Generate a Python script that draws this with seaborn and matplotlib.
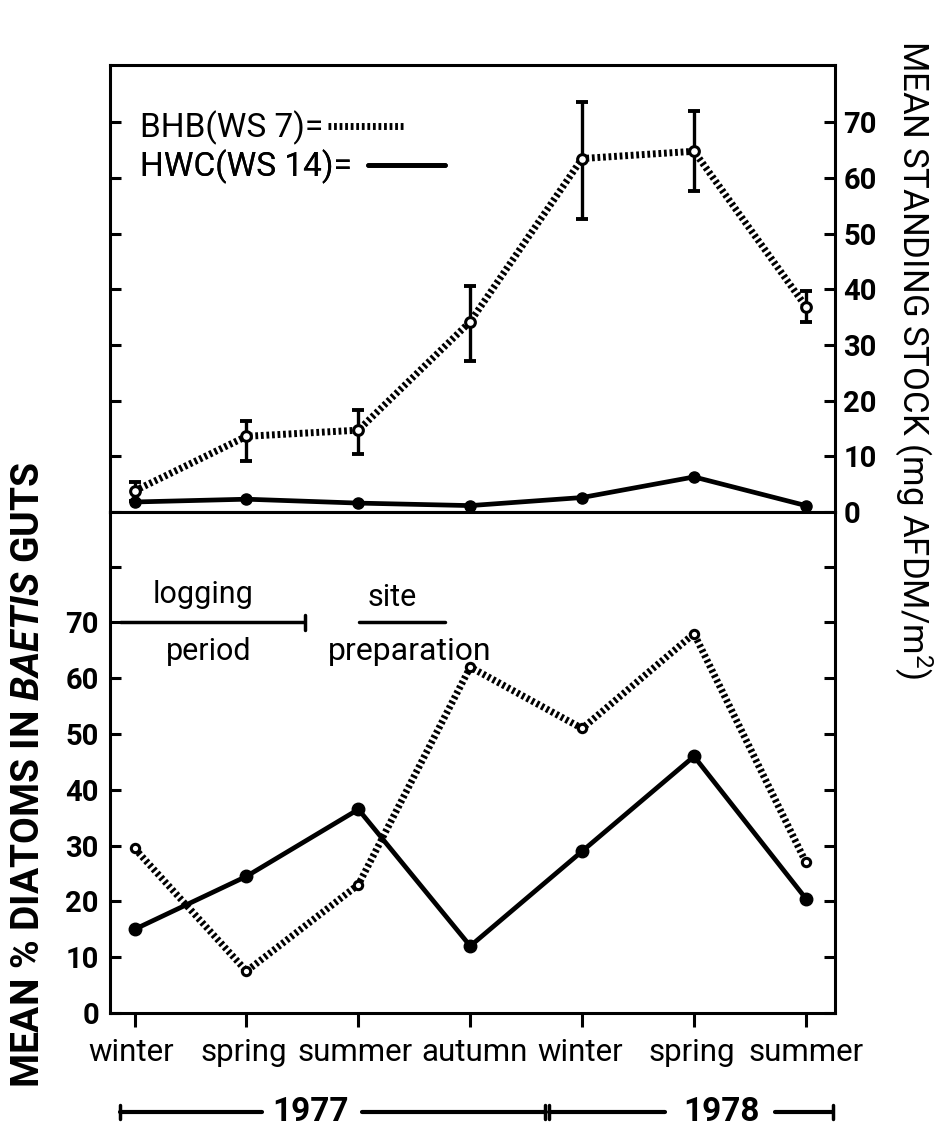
import numpy as np
import pandas as pd
import matplotlib
matplotlib.use("Agg")
import matplotlib.pyplot as plt
import matplotlib.transforms as mtrans
from matplotlib.lines import Line2D
import seaborn as sns

# ---------------- data ----------------
seasons = ["winter", "spring", "summer", "autumn", "winter", "spring", "summer"]
x_pos = [0, 1, 2, 3, 4, 5, 6]

bhb_stock = [3.8, 13.6, 14.7, 34.2, 63.5, 64.8, 36.9]
bhb_stock_low = [2.0, 9.1, 10.5, 27.2, 52.7, 57.7, 34.1]
bhb_stock_high = [5.4, 16.3, 18.4, 40.6, 73.6, 72.0, 39.7]
hwc_stock = [1.8, 2.3, 1.6, 1.15, 2.6, 6.3, 1.15]

bhb_diatoms = [29.5, 7.5, 23.0, 62.0, 51.0, 68.0, 27.0]
hwc_diatoms = [15.0, 24.5, 36.5, 12.0, 29.0, 46.0, 20.5]

stock_ticks = [0, 10, 20, 30, 40, 50, 60, 70]
diatom_ticks = [0, 10, 20, 30, 40, 50, 60, 70, 80]
diatom_ticklabels = ["0", "10", "20", "30", "40", "50", "60", "70", ""]

legend_labels = ["BHB(WS 7)=", "HWC(WS 14)="]
years = ["1977", "1978"]

# ---------------- style ----------------
sns.set_style("ticks")
plt.rcParams["font.family"] = ["Roboto", "DejaVu Sans"]
plt.rcParams["mathtext.fontset"] = "custom"
plt.rcParams["mathtext.rm"] = "Roboto"
plt.rcParams["mathtext.it"] = "Roboto:italic:bold"
plt.rcParams["mathtext.bf"] = "Roboto:bold"
for k in ["text.color", "axes.edgecolor", "axes.labelcolor", "xtick.color", "ytick.color"]:
    plt.rcParams[k] = "black"
plt.rcParams["axes.linewidth"] = 2.2

fig = plt.figure(figsize=(9.35, 11.37), dpi=100)
L, R = 110 / 935, 835 / 935
ax1 = fig.add_axes([L, 1 - 512 / 1137, R - L, (512 - 65) / 1137])
ax2 = fig.add_axes([L, 1 - 1013 / 1137, R - L, (1013 - 512) / 1137])

dot_ls = (0, (0.4, 0.4))
dot_lw = 5.0

df_top = pd.DataFrame({"x": x_pos, "bhb": bhb_stock, "hwc": hwc_stock,
                       "lo": bhb_stock_low, "hi": bhb_stock_high})
df_bot = pd.DataFrame({"x": x_pos, "bhb": bhb_diatoms, "hwc": hwc_diatoms})

# ---- top panel ----
ax1.errorbar(df_top["x"], df_top["bhb"],
             yerr=[df_top["bhb"] - df_top["lo"], df_top["hi"] - df_top["bhb"]],
             fmt="none", ecolor="black", elinewidth=2.4, capsize=4, capthick=2.8, zorder=2)
sns.lineplot(data=df_top, x="x", y="bhb", ax=ax1, color="black", linewidth=dot_lw,
             linestyle=dot_ls, marker="o", markersize=7, markerfacecolor="white",
             markeredgecolor="black", markeredgewidth=2.2, zorder=3)
sns.lineplot(data=df_top, x="x", y="hwc", ax=ax1, color="black", linewidth=3.4,
             marker="o", markersize=8, markerfacecolor="black",
             markeredgecolor="black", markeredgewidth=1, zorder=3)

ax1.set_xlim(-0.22, 6.26)
ax1.set_ylim(0, 80.3)
ax1.set_yticks(stock_ticks)
ax1.tick_params(axis="y", left=True, right=True, labelleft=False, labelright=True,
                direction="in", length=8, width=2.2, labelsize=21, pad=6)
for t in ax1.get_yticklabels():
    t.set_fontweight("bold")
ax1.set_xticks(x_pos)
ax1.tick_params(axis="x", bottom=True, labelbottom=False, direction="out",
                length=10, width=2.2)
ax1.set_xlabel("")
ax1.set_ylabel("")

for lab, ls, lw, yanc, tp in [(legend_labels[0], dot_ls, dot_lw, 0.859, 0.15),
                              (legend_labels[1], "-", 3.4, 0.772, 0.5)]:
    h = Line2D([], [], color="black", linestyle=ls, linewidth=lw)
    leg = ax1.legend([h], [lab], loc="center left", bbox_to_anchor=(0.041, yanc),
                     frameon=False, markerfirst=False, fontsize=24,
                     handlelength=2.3, handletextpad=tp, borderpad=0, borderaxespad=0)
    ax1.add_artist(leg)

# ---- bottom panel ----
sns.lineplot(data=df_bot, x="x", y="bhb", ax=ax2, color="black", linewidth=dot_lw,
             linestyle=dot_ls, marker="o", markersize=6, markerfacecolor="white",
             markeredgecolor="black", markeredgewidth=2.2, zorder=3)
sns.lineplot(data=df_bot, x="x", y="hwc", ax=ax2, color="black", linewidth=3.4,
             marker="o", markersize=9, markerfacecolor="black",
             markeredgecolor="black", markeredgewidth=1, zorder=3)

ax2.set_xlim(-0.22, 6.26)
ax2.set_ylim(0, 89.8)
ax2.set_yticks(diatom_ticks)
ax2.set_yticklabels(diatom_ticklabels, fontweight="bold")
ax2.tick_params(axis="y", left=True, right=True, labelleft=True, labelright=False,
                direction="in", length=8, width=2.2, labelsize=21, pad=8)
ax2.set_xticks(x_pos)
ax2.set_xticklabels(seasons)
ax2.tick_params(axis="x", bottom=True, direction="out", length=10, width=2.2,
                labelsize=22.5, pad=8)
# small horizontal nudges so neighbouring labels keep a gap, as in the original
for lbl, dx in zip(ax2.get_xticklabels(), [-3, -3, -3, 4, -2, -2, 0]):
    lbl.set_transform(lbl.get_transform() +
                      mtrans.ScaledTranslation(dx / 100, 0, fig.dpi_scale_trans))
ax2.set_xlabel("")
ax2.set_ylabel("")

# period annotations
ax2.plot([-0.13, 1.52], [70, 70], color="black", lw=2.5, solid_capstyle="butt")
ax2.plot([1.52, 1.52], [68.6, 71.4], color="black", lw=2.5)
ax2.text(0.61, 75.0, "logging", ha="center", va="center", fontsize=22)
ax2.text(0.66, 64.8, "period", ha="center", va="center", fontsize=22)
ax2.plot([2.01, 2.77], [70, 70], color="black", lw=2.5)
ax2.text(2.30, 74.4, "site", ha="center", va="center", fontsize=22)
ax2.text(2.46, 64.8, "preparation", ha="center", va="center", fontsize=23)

# year bar under x axis
tr = mtrans.blended_transform_factory(ax2.transData, ax2.transAxes)
yb = -0.197
for xs in ([-0.13, 1.14], [2.03, 3.67], [3.70, 4.74], [5.72, 6.24]):
    ax2.plot(xs, [yb, yb], color="black", lw=3, transform=tr, clip_on=False)
for xt in (-0.13, 3.67, 3.70, 6.24):
    ax2.plot([xt, xt], [yb - 0.014, yb + 0.014], color="black", lw=2.5,
             transform=tr, clip_on=False)
ax2.text(1.574, yb, years[0], transform=tr, ha="center", va="center",
         fontsize=24, fontweight="bold")
ax2.text(5.25, yb, years[1], transform=tr, ha="center", va="center",
         fontsize=24, fontweight="bold")

# axis titles
fig.text(0.977, 1 - 360 / 1137, r"MEAN STANDING STOCK (mg AFDM/m$^2$)",
         rotation=270, ha="center", va="center", fontsize=25)
fig.text(0.030, 1 - 775 / 1137, r"MEAN % DIATOMS IN $\mathit{BAETIS}$ GUTS",
         rotation=90, ha="center", va="center", fontsize=28, fontweight="bold")

fig.savefig("out.png", dpi=100)
